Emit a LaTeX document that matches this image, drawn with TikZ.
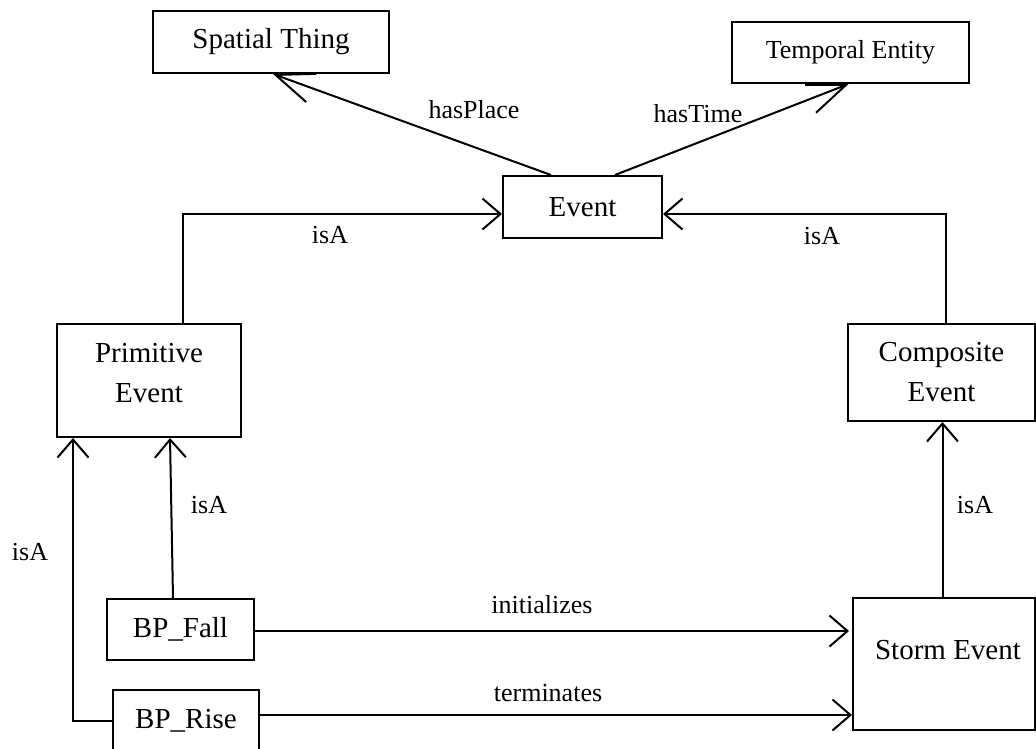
\documentclass[tikz,border=0pt]{standalone}
\usepackage{fontspec}
\setmainfont{Liberation Serif}
\usetikzlibrary{arrows.meta}

\tikzset{
  box/.style={draw, line width=2pt, rectangle, inner sep=0pt, align=center,
    font=\fontsize{29}{40}\selectfont},
  inner/.style={box, draw=none},
  rel/.style={line width=2pt, -{Straight Barb[length=18pt,width=31pt,line width=2pt]}},
  diag/.style={line width=2pt, -{Straight Barb[length=38pt,width=30pt,line width=2pt]}},
  lbl/.style={inner sep=0pt, font=\fontsize{26}{30}\selectfont}
}

\begin{document}
\begin{tikzpicture}[x=1pt, y=-1pt]
  \useasboundingbox (0,0) rectangle (1036,749);

  % classes
  \node[box, minimum width=236pt, minimum height=62pt] (spatial) at (271,42) {Spatial Thing};
  \node[box, minimum width=237pt, minimum height=61pt, font=\fontsize{26}{30}\selectfont] (temporal) at (850.5,52.5) {Temporal Entity};
  \node[box, minimum width=159pt, minimum height=62pt] (event) at (582.5,207) {Event};
  \node[box, minimum width=184pt, minimum height=113pt,
        label={[inner, yshift=7pt]center:Primitive\\Event}] (prim) at (149,380.5) {};
  \node[box, minimum width=187pt, minimum height=97pt] (comp) at (941.5,372.5) {Composite\\Event};
  \node[box, minimum width=182pt, minimum height=132pt,
        label={[inner, yshift=14pt, xshift=4pt]center:Storm Event}] (storm) at (944,664) {};
  \node[box, minimum width=147pt, minimum height=61pt] (fall) at (180.5,629.5) {BP\_Fall};
  \node[box, minimum width=146pt, minimum height=61pt] (rise) at (186,720.5) {BP\_Rise};

  % properties of an event
  \draw[diag] ([xshift=-31.5pt]event.north) -- ([xshift=2pt]spatial.south);
  \draw[diag] ([xshift=32.5pt]event.north) -- ([xshift=-2pt]temporal.south);
  \node[lbl] (lplace) at (474,110) {hasPlace};
  \node[lbl] (ltime) at (698,114) {hasTime};

  % subclass links
  \draw[rel] ([xshift=34pt]prim.north) |- ([yshift=-7pt]event.west);
  \draw[rel] ([xshift=4.5pt]comp.north) |- ([yshift=-7pt]event.east);
  \node[lbl] (lisa1) at (330,235) {isA};
  \node[lbl] (lisa2) at (822,236) {isA};

  \draw[rel] ([xshift=-7.5pt]fall.north) -- ([xshift=21pt]prim.south);
  \node[lbl] (lisa3) at (209,505) {isA};
  \draw[rel] ([xshift=2pt]rise.west) -| ([xshift=-76pt]prim.south);
  \node[lbl] (lisa4) at (30,552) {isA};

  \draw[rel] ([xshift=-1.5pt]storm.north) -- ([xshift=-1.5pt]storm.north |- comp.south);
  \node[lbl] (lisa5) at (975,505) {isA};

  % start and end of a storm
  \draw[rel] ([yshift=-1.5pt]fall.east) -- ([xshift=-3pt,yshift=-1.5pt]storm.west |- fall.east);
  \node[lbl] (linit) at (542,605) {initializes};
  \draw[rel] ([yshift=5.5pt]rise.east) -- ([yshift=5.5pt]storm.west |- rise.east);
  \node[lbl] (lterm) at (548,693) {terminates};
\end{tikzpicture}
\end{document}
